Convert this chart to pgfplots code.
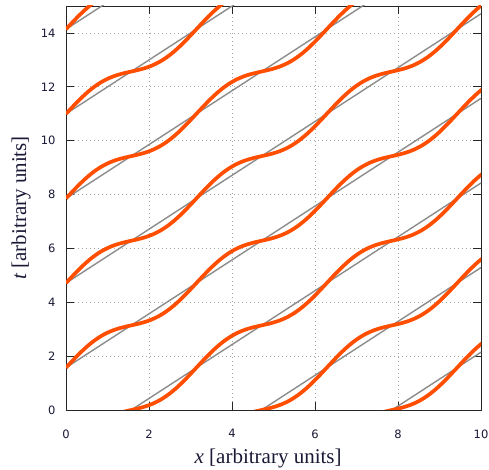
\documentclass[border=0pt]{standalone}
\usepackage{fontspec}
\setmainfont{Liberation Serif}
\newfontfamily\tickfont{DejaVu Sans}
\usepackage{pgfplots}
\pgfplotsset{compat=1.18}
\usepackage{pgfplotstable}
\definecolor{curveor}{RGB}{255,78,0}
\definecolor{lin}{RGB}{140,140,140}
\definecolor{tickc}{RGB}{25,25,55}
\pgfplotstableread{
x d
0 0
0.1309 0.08541
0.2618 0.165
0.3927 0.23335
0.5236 0.28579
0.6545 0.31876
0.7854 0.33
0.9163 0.31876
1.0472 0.28579
1.1781 0.23335
1.3090 0.165
1.4399 0.08541
1.5708 0
1.7017 -0.08541
1.8326 -0.165
1.9635 -0.23335
2.0944 -0.28579
2.2253 -0.31876
2.3562 -0.33
2.4871 -0.31876
2.6180 -0.28579
2.7489 -0.23335
2.8798 -0.165
3.0107 -0.08541
3.1416 0
3.2725 0.08541
3.4034 0.165
3.5343 0.23335
3.6652 0.28579
3.7961 0.31876
3.9270 0.33
4.0579 0.31876
4.1888 0.28579
4.3197 0.23335
4.4506 0.165
4.5815 0.08541
4.7124 0
4.8433 -0.08541
4.9742 -0.165
5.1051 -0.23335
5.2360 -0.28579
5.3669 -0.31876
5.4978 -0.33
5.6287 -0.31876
5.7596 -0.28579
5.8905 -0.23335
6.0214 -0.165
6.1523 -0.08541
6.2832 0
6.4141 0.08541
6.5450 0.165
6.6759 0.23335
6.8068 0.28579
6.9377 0.31876
7.0686 0.33
7.1995 0.31876
7.3304 0.28579
7.4613 0.23335
7.5922 0.165
7.7231 0.08541
7.8540 0
7.9849 -0.08541
8.1158 -0.165
8.2467 -0.23335
8.3776 -0.28579
8.5085 -0.31876
8.6394 -0.33
8.7703 -0.31876
8.9012 -0.28579
9.0321 -0.23335
9.1630 -0.165
9.2939 -0.08541
9.4248 0
9.5557 0.08541
9.6866 0.165
9.8175 0.23335
9.9484 0.28579
10.0793 0.31876
}\curve
\begin{document}
\begin{tikzpicture}
\begin{axis}[name=ax,
  scale only axis, width=415bp, height=404bp,
  xmin=0, xmax=10, ymin=0, ymax=15,
  xtick={0,2,...,10}, ytick={0,2,...,14},
  tick align=inside, major tick length=8bp,
  grid=major,
  grid style={lin!80, line width=0.7bp, dash pattern=on 1bp off 3bp},
  axis line style={line width=0.8bp, black!85},
  tick style={line width=0.8bp, black!85},
  /pgf/number format/assume math mode=true,
  ticklabel style={font=\tickfont\fontsize{11.5bp}{13bp}\selectfont, text=tickc},
  xticklabel style={yshift=-16bp},
  yticklabel style={xshift=-7bp},
  xlabel={\textit{x} [arbitrary units]},
  ylabel={\textit{t} [arbitrary units]},
  xlabel style={at={(axis description cs:0.487,-0.119)}, anchor=center,
    font=\fontsize{21bp}{24bp}\selectfont, text=tickc},
  ylabel style={at={(axis description cs:-0.108,0.5)}, anchor=center,
    font=\fontsize{21bp}{24bp}\selectfont, text=tickc},
]
\addplot[lin, line width=1.4bp] coordinates {(0,-7.854) (10,2.146)};
\addplot[lin, line width=1.4bp] coordinates {(0,-4.712) (10,5.288)};
\addplot[lin, line width=1.4bp] coordinates {(0,-1.571) (10,8.429)};
\addplot[lin, line width=1.4bp] coordinates {(0,1.571) (10,11.571)};
\addplot[lin, line width=1.4bp] coordinates {(0,4.712) (10,14.712)};
\addplot[lin, line width=1.4bp] coordinates {(0,7.854) (10,17.854)};
\addplot[lin, line width=1.4bp] coordinates {(0,10.996) (10,20.996)};
\addplot[lin, line width=1.4bp] coordinates {(0,14.137) (10,24.137)};
\pgfplotsinvokeforeach{-3,-2,-1,0,1,2,3,4}{
  \addplot[curveor, line width=3.7bp, smooth, line join=round]
    table[x=x, y expr={\thisrow{x}+\thisrow{d}+(#1+0.5)*pi}]{\curve};
}
\end{axis}
\pgfresetboundingbox
\path ([shift={(-66bp,-60bp)}]ax.south west) rectangle ([shift={(8bp,6bp)}]ax.north east);
\end{tikzpicture}
\end{document}
